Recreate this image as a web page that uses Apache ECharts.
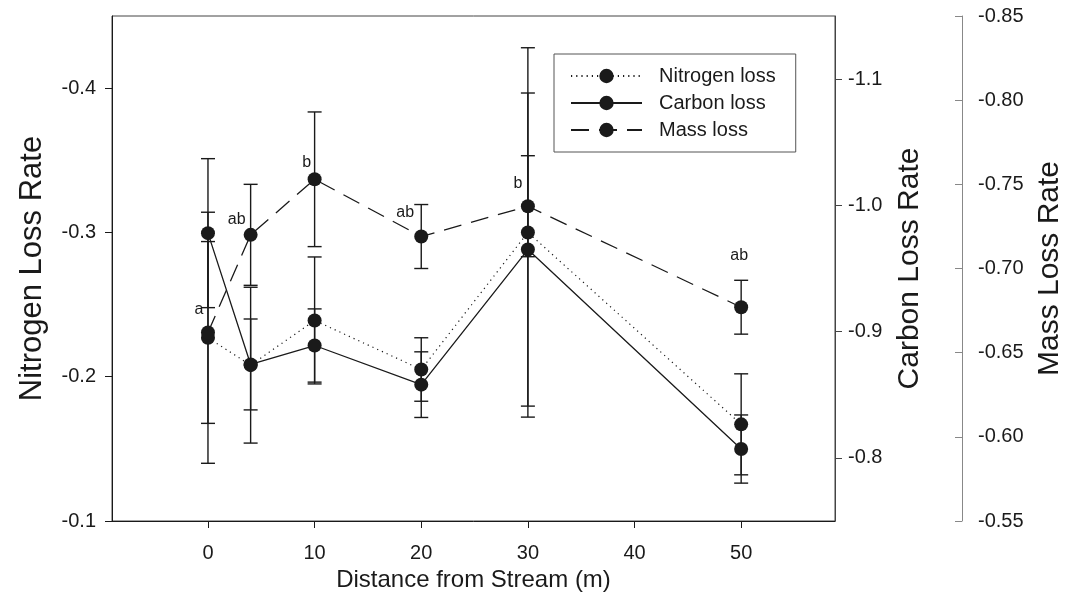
<!DOCTYPE html>
<html>
<head>
<meta charset="utf-8">
<script src="https://cdn.jsdelivr.net/npm/echarts@6/dist/echarts.min.js"></script>
<style>
  html, body { margin: 0; padding: 0; background: #fff; }
  #chart { width: 1072px; height: 592px; }
</style>
</head>
<body>
<div id="chart"></div>
<script>
// Distance from the stream (m)
const distance = [0, 4, 10, 20, 30, 50];

// Loss rates (means) and their error half-widths
const nitrogenLoss = [-0.227, -0.208, -0.239, -0.205, -0.300, -0.167];
const nitrogenErr  = [0.087, 0.054, 0.044, 0.022, 0.128, 0.035];
const carbonLoss   = [-0.978, -0.874, -0.889, -0.858, -0.965, -0.807];
const carbonErr    = [0.059, 0.036, 0.029, 0.026, 0.124, 0.027];
const massLoss     = [-0.662, -0.720, -0.753, -0.719, -0.737, -0.677];
const massErr      = [0.054, 0.030, 0.040, 0.019, 0.030, 0.016];

// Significance letters shown beside the mass-loss points
const massLetters = ['a', 'ab', 'b', 'ab', 'b', 'ab'];

// Tick labels
const xTicks = [0, 10, 20, 30, 40, 50];
const nitrogenTicks = [-0.4, -0.3, -0.2, -0.1];
const carbonTicks = [-1.1, -1.0, -0.9, -0.8];
const massTicks = [-0.85, -0.80, -0.75, -0.70, -0.65, -0.60, -0.55];

// Where each letter sits relative to its point (px)
const letterOffsets = [[-9, -23], [-14, -15], [-8, -17], [-16, -24], [-10, -23], [-2, -52]];

const FONT = '"Liberation Sans", Arial, Helvetica, sans-serif';
const INK = '#1a1a1a';

function errorSeries(name, yAxisIndex, means, errs) {
  return {
    name: name + ' err',
    type: 'custom',
    yAxisIndex: yAxisIndex,
    z: 1,
    silent: true,
    data: distance.map((d, i) => [d, means[i] - errs[i], means[i] + errs[i]]),
    renderItem: function (params, api) {
      const lo = api.coord([api.value(0), api.value(1)]);
      const hi = api.coord([api.value(0), api.value(2)]);
      const half = 7;
      const style = { stroke: INK, lineWidth: 1.4 };
      return {
        type: 'group',
        children: [
          { type: 'line', shape: { x1: lo[0], y1: lo[1], x2: hi[0], y2: hi[1] }, style: style },
          { type: 'line', shape: { x1: lo[0] - half, y1: lo[1], x2: lo[0] + half, y2: lo[1] }, style: style },
          { type: 'line', shape: { x1: hi[0] - half, y1: hi[1], x2: hi[0] + half, y2: hi[1] }, style: style }
        ]
      };
    }
  };
}

function lineSeries(name, yAxisIndex, values, lineStyle, extra) {
  return Object.assign({
    name: name,
    type: 'line',
    yAxisIndex: yAxisIndex,
    z: 3,
    symbol: 'circle',
    symbolSize: 14,
    itemStyle: { color: INK, borderWidth: 0 },
    lineStyle: Object.assign({ color: INK }, lineStyle),
    data: distance.map((d, i) => [d, values[i]]),
    animation: false
  }, extra || {});
}

const chart = echarts.init(document.getElementById('chart'), null, { renderer: 'canvas' });

const tickFmt1 = v => Number(v).toFixed(1);
const tickFmt2 = v => Number(v).toFixed(2);

chart.setOption({
  backgroundColor: '#ffffff',
  animation: false,
  textStyle: { fontFamily: FONT, color: INK },
  grid: {
    left: 112, right: 237, top: 16, bottom: 71,
    outerBoundsMode: 'none',
    containLabel: false,
    show: true, borderColor: '#444', borderWidth: 1, backgroundColor: 'transparent'
  },
  legend: {
    data: ['Nitrogen loss', 'Carbon loss', 'Mass loss'],
    orient: 'vertical',
    left: 554, top: 54,
    itemWidth: 71, itemHeight: 18, itemGap: 7,
    padding: [12, 20, 12, 16],
    borderColor: '#555', borderWidth: 1,
    textStyle: { fontFamily: FONT, fontSize: 20, color: INK, padding: [0, 0, 0, 12] }
  },
  xAxis: {
    type: 'value',
    min: -9, max: 58.8,
    name: 'Distance from Stream (m)',
    nameLocation: 'middle', nameGap: 42,
    nameTextStyle: { fontFamily: FONT, fontSize: 24, color: INK },
    axisLine: { show: true, onZero: false, lineStyle: { color: INK, width: 1 } },
    axisTick: { show: true, length: 7, customValues: xTicks, lineStyle: { color: INK } },
    axisLabel: { customValues: xTicks, fontFamily: FONT, fontSize: 20, color: INK, margin: 22 },
    splitLine: { show: false }
  },
  yAxis: [
    {
      type: 'value', position: 'left', inverse: true,
      min: -0.45, max: -0.1,
      name: 'Nitrogen Loss Rate',
      nameLocation: 'middle', nameGap: 64, nameRotate: 90,
      nameTextStyle: { fontFamily: FONT, fontSize: 31, color: INK },
      axisLine: { show: true, onZero: false, lineStyle: { color: INK, width: 1 } },
      axisTick: { show: true, length: 7, customValues: nitrogenTicks, lineStyle: { color: INK } },
      axisLabel: { customValues: nitrogenTicks, formatter: tickFmt1, fontFamily: FONT, fontSize: 20, color: INK, margin: 16 },
      splitLine: { show: false }
    },
    {
      type: 'value', position: 'right', inverse: true,
      min: -1.15, max: -0.75,
      name: 'Carbon Loss Rate',
      nameLocation: 'middle', nameGap: 60, nameRotate: 90,
      nameTextStyle: { fontFamily: FONT, fontSize: 30, color: INK },
      axisLine: { show: true, onZero: false, lineStyle: { color: '#444', width: 1 } },
      axisTick: { show: true, length: 7, customValues: carbonTicks, lineStyle: { color: '#444' } },
      axisLabel: { customValues: carbonTicks, formatter: tickFmt1, fontFamily: FONT, fontSize: 20, color: INK, margin: 13 },
      splitLine: { show: false }
    },
    {
      type: 'value', position: 'right', inverse: true, offset: 127,
      min: -0.85, max: -0.55,
      name: 'Mass Loss Rate',
      nameLocation: 'middle', nameGap: 56, nameRotate: 90,
      nameTextStyle: { fontFamily: FONT, fontSize: 30, color: INK },
      axisLine: { show: true, onZero: false, lineStyle: { color: '#888', width: 1 } },
      axisTick: { show: true, inside: true, length: 7, customValues: massTicks, lineStyle: { color: '#888' } },
      axisLabel: { customValues: massTicks, formatter: tickFmt2, fontFamily: FONT, fontSize: 20, color: INK, margin: 16 },
      splitLine: { show: false }
    }
  ],
  series: [
    errorSeries('Nitrogen loss', 0, nitrogenLoss, nitrogenErr),
    errorSeries('Carbon loss', 1, carbonLoss, carbonErr),
    errorSeries('Mass loss', 2, massLoss, massErr),
    lineSeries('Nitrogen loss', 0, nitrogenLoss, { width: 1.2, type: [1.2, 4] }),
    lineSeries('Carbon loss', 1, carbonLoss, { width: 1.3, type: 'solid' }),
    lineSeries('Mass loss', 2, massLoss, { width: 1.3, type: [18, 10] }, {
      data: distance.map((d, i) => ({
        value: [d, massLoss[i]],
        label: {
          show: true,
          position: 'inside',
          offset: letterOffsets[i],
          formatter: massLetters[i],
          fontFamily: FONT, fontSize: 16, color: INK
        }
      }))
    })
  ]
});
</script>
</body>
</html>
